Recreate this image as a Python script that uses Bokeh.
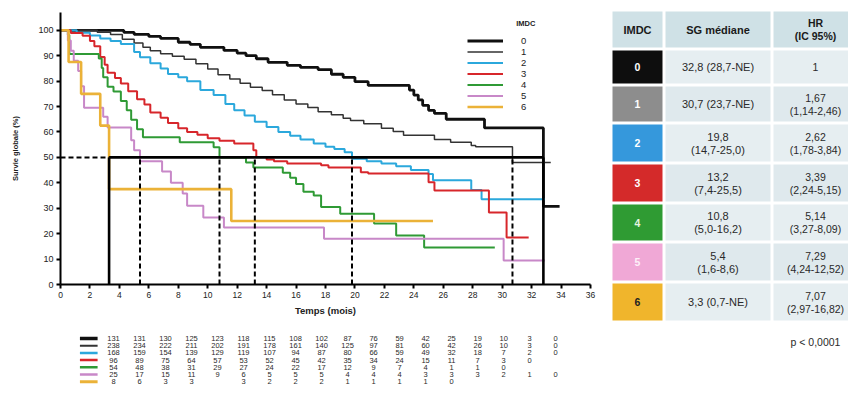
from bokeh.plotting import figure
from bokeh.layouts import row, column
from bokeh.models import Range1d, Legend, LegendItem, Label, FixedTicker
from bokeh.embed import file_html
from bokeh.resources import INLINE
from bokeh.core.properties import value

# ---------------- data ----------------
groups = ["0", "1", "2", "3", "4", "5", "6"]

t0 = [0, 4.3, 5.0, 6.0, 6.8, 8.0, 8.8, 9.5, 11.1, 12.0, 12.6, 13.3, 14.1, 15.4, 16.3, 17.5, 18.4, 19.2, 20.0, 20.9, 23.7, 24.0, 24.3, 24.6, 25.0, 25.4, 26.2, 28.8, 32.8]
s0 = [100, 99.2, 98.4, 97.6, 96.8, 95.3, 94.5, 93.3, 92.1, 91.0, 90.0, 88.8, 87.4, 86.2, 85.4, 84.5, 82.7, 81.5, 79.8, 78.3, 76.5, 74.5, 72.6, 70.5, 68.5, 67.3, 65.0, 61.6, 30.7]
end0 = 33.9

t1 = [0, 2.5, 3.4, 4.2, 5.0, 5.6, 6.1, 6.8, 7.6, 8.4, 9.2, 10.0, 10.7, 11.5, 12.2, 12.9, 13.7, 14.4, 15.2, 16.0, 16.8, 17.5, 18.4, 19.2, 19.7, 20.6, 21.8, 22.6, 23.3, 25.4, 26.5, 27.9, 28.2, 30.7]
s1 = [100, 99.2, 98.3, 96.5, 95.0, 93.3, 92.0, 90.8, 89.8, 88.6, 86.8, 84.8, 82.5, 80.8, 79.2, 77.6, 76.3, 74.6, 72.6, 71.0, 69.6, 68.0, 66.8, 65.4, 64.5, 63.2, 61.5, 60.2, 58.7, 57.0, 56.0, 54.7, 54.2, 48.0]
end1 = 33.3

t2 = [0, 1.1, 2.0, 2.7, 3.4, 4.1, 5.0, 5.4, 6.1, 6.8, 7.3, 8.0, 8.6, 9.5, 10.4, 11.2, 11.8, 12.5, 13.2, 14.0, 14.8, 15.6, 16.3, 17.2, 18.0, 18.6, 19.3, 19.8, 20.8, 21.8, 22.8, 23.8, 25.0, 25.3, 27.9, 28.6]
s2 = [100, 99.0, 98.0, 96.8, 95.8, 94.6, 91.5, 89.4, 87.0, 85.0, 82.8, 81.5, 80.0, 76.5, 74.5, 71.0, 68.5, 66.5, 64.0, 62.0, 60.0, 58.5, 57.0, 55.5, 54.2, 53.3, 52.0, 49.5, 48.5, 47.6, 46.5, 45.0, 43.5, 41.0, 37.2, 33.5]
end2 = 32.9

t3 = [0, 0.7, 1.5, 2.0, 2.3, 2.7, 3.0, 3.2, 3.7, 4.1, 4.6, 5.2, 5.7, 6.1, 6.8, 7.3, 8.0, 8.6, 9.3, 10.0, 10.8, 11.8, 13.1, 13.3, 14.0, 14.5, 15.4, 17.7, 18.2, 20.4, 20.9, 25.0, 25.4, 29.1, 30.3]
s3 = [100, 98.9, 97.9, 95.8, 93.7, 89.5, 86.4, 83.3, 81.2, 79.1, 76.0, 72.9, 70.8, 67.7, 65.6, 63.5, 61.5, 60.0, 58.9, 57.5, 56.5, 55.5, 52.8, 50.2, 49.2, 48.5, 47.6, 46.9, 46.0, 44.2, 43.7, 40.2, 37.0, 28.3, 18.5]
end3 = 31.8

t4 = [0, 0.5, 0.6, 2.6, 2.8, 2.9, 3.2, 3.6, 4.1, 4.5, 4.8, 5.2, 5.6, 8.1, 10.4, 10.8, 12.6, 13.1, 15.1, 15.6, 16.0, 16.5, 17.2, 17.7, 19.0, 21.3, 22.8, 24.7]
s4 = [100, 98.1, 90.7, 88.9, 85.2, 81.5, 77.8, 75.9, 72.2, 68.5, 64.8, 61.1, 57.9, 56.0, 54.0, 50.0, 48.0, 46.0, 44.0, 42.0, 39.5, 36.5, 35.0, 30.5, 27.8, 24.0, 19.3, 14.6]
end4 = 29.5

t5 = [0, 0.5, 0.7, 0.9, 1.2, 1.4, 1.6, 2.9, 3.2, 4.8, 5.0, 5.4, 6.9, 7.5, 8.3, 8.6, 9.7, 11.1, 17.9, 30.1]
s5 = [100, 96, 92, 88, 84, 78, 69.5, 66.0, 61.8, 56.7, 52.8, 48.5, 44.5, 40.0, 35.8, 31.0, 26.4, 22.4, 18.0, 9.4]
end5 = 32.9

t6 = [0, 0.55, 1.4, 2.7, 3.3, 11.6]
s6 = [100, 87.5, 75, 62.5, 37.5, 25]
end6 = 25.3

median_times = [32.8, 30.7, 19.8, 13.2, 10.8, 5.4, 3.3]

median_text = [["32,8 (28,7-NE)"], ["30,7 (23,7-NE)"], ["19,8", "(14,7-25,0)"], ["13,2", "(7,4-25,5)"],
               ["10,8", "(5,0-16,2)"], ["5,4", "(1,6-8,6)"], ["3,3 (0,7-NE)"]]
hr_text = [["1"], ["1,67", "(1,14-2,46)"], ["2,62", "(1,78-3,84)"], ["3,39", "(2,24-5,15)"],
           ["5,14", "(3,27-8,09)"], ["7,29", "(4,24-12,52)"], ["7,07", "(2,97-16,82)"]]
p_value = "p < 0,0001"

x_ticks = list(range(0, 37, 2))
y_ticks = list(range(0, 101, 10))

risk_times = list(range(0, 35, 2))
risk0 = [131, 131, 130, 125, 123, 118, 115, 108, 102, 87, 76, 59, 42, 25, 19, 10, 3, 0]
risk1 = [238, 234, 222, 211, 202, 191, 178, 161, 140, 125, 97, 81, 60, 42, 26, 10, 3, 0]
risk2 = [168, 159, 154, 139, 129, 119, 107, 94, 87, 80, 66, 59, 49, 32, 18, 7, 2, 0]
risk3 = [96, 89, 75, 64, 57, 53, 52, 45, 42, 35, 34, 24, 15, 11, 7, 3, 0]
risk4 = [54, 48, 38, 31, 29, 27, 24, 22, 17, 12, 9, 7, 4, 1, 1, 0]
risk5 = [25, 17, 15, 11, 9, 6, 5, 5, 5, 4, 4, 4, 3, 3, 3, 2, 1, 0]
risk6 = [8, 6, 3, 3, None, 3, 2, 2, 2, 1, 1, 1, 1, 0]

curves = [(t0, s0, end0), (t1, s1, end1), (t2, s2, end2), (t3, s3, end3),
          (t4, s4, end4), (t5, s5, end5), (t6, s6, end6)]
risks = [risk0, risk1, risk2, risk3, risk4, risk5, risk6]

# ---------------- styles ----------------
colors = ["#101010", "#333333", "#2ba8dc", "#d7262b", "#2f9a35", "#c888c8", "#ebb238"]
widths = [2.8, 1.5, 2, 2, 2, 2, 2.6]
box_colors = ["#0e0e0e", "#8d8d8d", "#3598dc", "#d42a2a", "#2f9b33", "#f0a8d6", "#f0b52c"]
box_text_colors = ["white", "white", "white", "white", "#e8f5e0", "#fdf0f8", "#222222"]
FONT = value("Liberation Sans")

LEFT_W = 600
FR_LEFT = 60
FR_RIGHT = 10
FR_TOP = 12
FR_H = 272
MAIN_H = 320
X_MAX = 36
ppu = (LEFT_W - FR_LEFT - FR_RIGHT) / X_MAX

# ---------------- main KM plot ----------------
p = figure(width=LEFT_W, height=MAIN_H, x_range=Range1d(0, X_MAX), y_range=Range1d(0, 107),
           output_backend="svg", toolbar_location=None,
           min_border_left=FR_LEFT, min_border_right=FR_RIGHT, min_border_top=FR_TOP,
           min_border_bottom=MAIN_H - FR_TOP - FR_H)
p.xgrid.visible = False
p.ygrid.visible = False
p.outline_line_color = None
p.background_fill_color = "white"

renderers = []
for i, (t, s, e) in enumerate(curves):
    xs = list(t) + [e]
    ys = list(s) + [s[-1]]
    r = p.step(xs, ys, mode="after", line_color=colors[i], line_width=widths[i])
    renderers.append(r)

# median reference lines
med_level = 50
solid_idx = [0, 6]
dash_idx = [1, 2, 3, 4, 5]
p.segment(x0=[median_times[i] for i in dash_idx], y0=0, x1=[median_times[i] for i in dash_idx], y1=med_level,
          line_color="black", line_width=2, line_dash="5 3")
p.segment(x0=[median_times[i] for i in solid_idx], y0=0, x1=[median_times[i] for i in solid_idx], y1=med_level,
          line_color="black", line_width=2.6)
p.segment(x0=[0], y0=med_level, x1=[min(median_times)], y1=med_level,
          line_color="black", line_width=2, line_dash="5 3")
p.segment(x0=[min(median_times)], y0=med_level, x1=[max(median_times)], y1=med_level,
          line_color="black", line_width=2.6)

p.xaxis.ticker = FixedTicker(ticks=x_ticks)
p.yaxis.ticker = FixedTicker(ticks=y_ticks)
p.axis.axis_line_width = 2
p.axis.axis_line_color = "black"
p.axis.major_tick_line_width = 2
p.axis.major_tick_out = 4
p.axis.major_tick_in = 0
p.axis.minor_tick_line_color = None
p.axis.major_label_text_font = "Liberation Sans"
p.axis.major_label_text_color = "#222222"
p.xaxis.major_label_text_font_size = "8.5px"
p.yaxis.major_label_text_font_size = "9px"
p.axis.major_label_standoff = 3
p.xaxis.axis_label = "Temps (mois)"
p.yaxis.axis_label = "Survie globale (%)"
p.axis.axis_label_text_font = "Liberation Sans"
p.axis.axis_label_text_font_style = "bold"
p.axis.axis_label_text_color = "#222222"
p.xaxis.axis_label_text_font_size = "9.5px"
p.yaxis.axis_label_text_font_size = "7.5px"
p.xaxis.axis_label_standoff = 4
p.yaxis.axis_label_standoff = 15

legend = Legend(items=[LegendItem(label=g, renderers=[r]) for g, r in zip(groups, renderers)],
                location=(407, 172), padding=0, margin=0, spacing=0,
                glyph_width=36, glyph_height=11, label_height=11, label_standoff=18,
                label_text_font_size="9.5px", label_text_font="Liberation Sans", label_text_color="#222222",
                border_line_alpha=0, background_fill_alpha=0)
p.add_layout(legend)
p.add_layout(Label(x=31.6, y=102.8, text="IMDC", text_align="center", text_baseline="middle",
                   text_font_size="7.5px", text_font_style="bold", text_font="Liberation Sans",
                   text_color="#222222"))

# ---------------- number at risk ----------------
RISK_TOP = MAIN_H
ROW0 = 338
ROW_H = 7.2
risk_h = 90
rp = figure(width=LEFT_W, height=risk_h,
            x_range=Range1d(-FR_LEFT / ppu, (LEFT_W - FR_LEFT) / ppu),
            y_range=Range1d((RISK_TOP + risk_h - ROW0) / ROW_H, (RISK_TOP - ROW0) / ROW_H),
            output_backend="svg", toolbar_location=None, min_border=0)
rp.axis.visible = False
rp.xgrid.visible = False
rp.ygrid.visible = False
rp.outline_line_color = None
mk0, mk1 = (22 - FR_LEFT) / ppu, (42 - FR_LEFT) / ppu
for i, vals in enumerate(risks):
    xs = [t for t, v in zip(risk_times, vals) if v is not None]
    txt = [str(v) for v in vals if v is not None]
    rp.text(x=xs, y=[i] * len(xs), text=txt, text_align="center", text_baseline="middle",
            text_font=FONT, text_font_size="7.5px", text_color="#2a2a2a")
    rp.segment(x0=[mk0], y0=[i], x1=[mk1], y1=[i], line_color=colors[i], line_width=widths[i] + 0.5)

# ---------------- table ----------------
TX0, TX1 = LEFT_W, 848
TOT_H = MAIN_H + risk_h
tp = figure(width=TX1 - TX0, height=TOT_H, x_range=Range1d(TX0, TX1), y_range=Range1d(TOT_H, 0),
            output_backend="svg", toolbar_location=None, min_border=0)
tp.axis.visible = False
tp.xgrid.visible = False
tp.ygrid.visible = False
tp.outline_line_color = None

cols = [(612, 662), (665, 770), (773, 860)]
head = (11, 47)
rows_b = [50, 86, 124, 164, 204, 243, 283, 323]
hdr_bg = "#cfe1e6"
cell_bg = ["#e6eef1", "#dfe9ed"]

tp.quad(left=[c[0] for c in cols], right=[c[1] for c in cols], top=[head[0]] * 3, bottom=[head[1]] * 3,
        fill_color=hdr_bg, line_color=None)
cx = [(c[0] + c[1]) / 2 for c in cols]
cx[2] = 815
hy = (head[0] + head[1]) / 2
tp.text(x=[cx[0], cx[1]], y=[hy, hy], text=["IMDC", "SG médiane"], text_align="center", text_baseline="middle",
        text_font=FONT, text_font_size="11px", text_font_style="bold", text_color="#1a1a1a")
tp.text(x=[cx[2], cx[2]], y=[hy - 6.5, hy + 6.5], text=["HR", "(IC 95%)"], text_align="center",
        text_baseline="middle", text_font=FONT, text_font_size="10.5px", text_font_style="bold",
        text_color="#1a1a1a")

LINE_H = 13
for i, g in enumerate(groups):
    top = rows_b[i]
    bot = rows_b[i + 1] - 3
    my = (top + bot) / 2
    tp.quad(left=[cols[0][0]], right=[cols[0][1]], top=[top], bottom=[bot], fill_color=box_colors[i], line_color=None)
    tp.quad(left=[cols[1][0], cols[2][0]], right=[cols[1][1], cols[2][1]], top=[top, top], bottom=[bot, bot],
            fill_color=cell_bg[i % 2], line_color=None)
    tp.text(x=[cx[0]], y=[my], text=[g], text_align="center", text_baseline="middle", text_font=FONT,
            text_font_size="10.5px", text_font_style="bold", text_color=box_text_colors[i])
    for lines, x, fs in [(median_text[i], cx[1], "11px"), (hr_text[i], cx[2], "10.5px")]:
        n = len(lines)
        ys = [my + (k - (n - 1) / 2) * LINE_H for k in range(n)]
        tp.text(x=[x] * n, y=ys, text=lines, text_align="center", text_baseline="middle", text_font=FONT,
                text_font_size=fs, text_color="#2a2a2a")

tp.text(x=[cx[2]], y=[341], text=[p_value], text_align="center", text_baseline="middle", text_font=FONT,
        text_font_size="10.5px", text_color="#2a2a2a")

layout = row(column(p, rp), tp)
open("out.html", "w").write(file_html(layout, INLINE))
